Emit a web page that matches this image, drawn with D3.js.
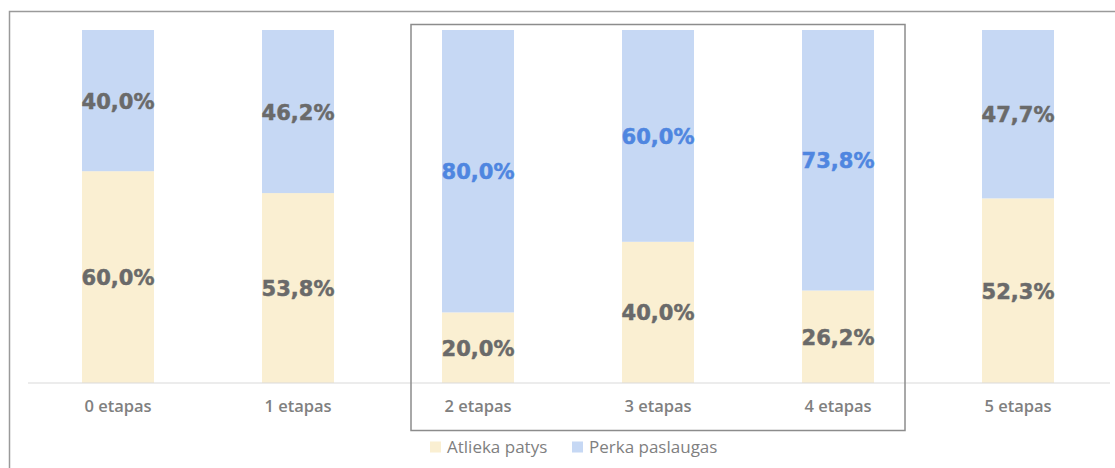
<!DOCTYPE html>
<html>
<head>
<meta charset="utf-8">
<script src="https://cdn.jsdelivr.net/npm/d3@7/dist/d3.min.js"></script>
<style>
  html, body { margin: 0; padding: 0; background: #fff; }
  svg { display: block; }
</style>
</head>
<body>
<svg id="chart" width="1115" height="468"></svg>
<script>
// Stages and the share of companies per stage
const categories = ["0 etapas", "1 etapas", "2 etapas", "3 etapas", "4 etapas", "5 etapas"];
const atliekaPatys = [60.0, 53.8, 20.0, 40.0, 26.2, 52.3];
const perkaPaslaugas = [40.0, 46.2, 80.0, 60.0, 73.8, 47.7];
const seriesNames = ["Atlieka patys", "Perka paslaugas"];
const highlighted = ["2 etapas", "3 etapas", "4 etapas"];

const colors = { "Atlieka patys": "#FAEFD2", "Perka paslaugas": "#C6D8F4" };

const svg = d3.select("#chart");
const W = 1115, H = 468;

// Outer frame (continues past the right and bottom edges)
svg.append("rect")
  .attr("x", 9.5).attr("y", 11.5)
  .attr("width", W).attr("height", H)
  .attr("fill", "none").attr("stroke", "#9a9a9a").attr("stroke-width", 1.5);

const x = d3.scaleBand().domain(categories).range([28, 1108]).paddingInner(0.6).paddingOuter(0.3);
const y = d3.scaleLinear().domain([0, 100]).range([383, 30]);

const rows = categories.map((c, i) => ({
  cat: c, "Atlieka patys": atliekaPatys[i], "Perka paslaugas": perkaPaslaugas[i]
}));
const stacked = d3.stack().keys(seriesNames)(rows);

const g = svg.append("g");
stacked.forEach(layer => {
  g.selectAll(null).data(layer).enter().append("rect")
    .attr("x", d => x(d.data.cat))
    .attr("y", d => y(d[1]))
    .attr("width", x.bandwidth())
    .attr("height", d => y(d[0]) - y(d[1]))
    .attr("fill", colors[layer.key]);
});

// Axis baseline and category labels
const axis = d3.axisBottom(x).tickSize(0).tickPadding(17);
const ax = svg.append("g").attr("transform", "translate(0,383)").call(axis);
ax.select(".domain").attr("stroke", "#d9d9d9").attr("stroke-width", 1.2)
  .attr("d", "M28,0H1110");
ax.selectAll("text")
  .attr("font-family", "'Open Sans', sans-serif")
  .attr("font-weight", 600)
  .attr("font-size", "16.5px")
  .attr("fill", "#808080");

// Segment value labels
const fmt = v => v.toFixed(1).replace(".", ",") + "%";
stacked.forEach(layer => {
  g.selectAll(null).data(layer).enter().append("text")
    .attr("x", d => x(d.data.cat) + x.bandwidth() / 2)
    .attr("y", d => (y(d[0]) + y(d[1])) / 2)
    .attr("dy", "0.38em")
    .attr("text-anchor", "middle")
    .attr("font-family", "'DejaVu Sans', sans-serif")
    .attr("font-weight", "bold")
    .attr("font-size", "21px")
    .attr("stroke-width", 0.5)
    .attr("fill", d => (layer.key === "Perka paslaugas" && highlighted.includes(d.data.cat)) ? "#4F86E0" : "#6a6a6a")
    .attr("stroke", d => (layer.key === "Perka paslaugas" && highlighted.includes(d.data.cat)) ? "#4F86E0" : "#6a6a6a")
    .text(d => fmt(d.data[layer.key]));
});

// Frame around the highlighted stages
const hx0 = x(highlighted[0]) - 31;
const hx1 = x(highlighted[highlighted.length - 1]) + x.bandwidth() + 31;
svg.append("rect")
  .attr("x", hx0).attr("y", 24.5)
  .attr("width", hx1 - hx0).attr("height", 406)
  .attr("fill", "none").attr("stroke", "#8c8c8c").attr("stroke-width", 1.5);

// Legend
const legend = svg.append("g").attr("transform", "translate(430,447)");
const items = [
  { name: seriesNames[0], x: 0 },
  { name: seriesNames[1], x: 142 }
];
items.forEach(it => {
  legend.append("rect").attr("x", it.x).attr("y", -5.5).attr("width", 11).attr("height", 11)
    .attr("fill", colors[it.name]);
  legend.append("text").attr("x", it.x + 17).attr("y", 0).attr("dy", "0.35em")
    .attr("font-family", "'Open Sans', sans-serif")
    .attr("font-size", "17px")
    .attr("fill", "#7f7f7f")
    .text(it.name);
});
</script>
</body>
</html>
